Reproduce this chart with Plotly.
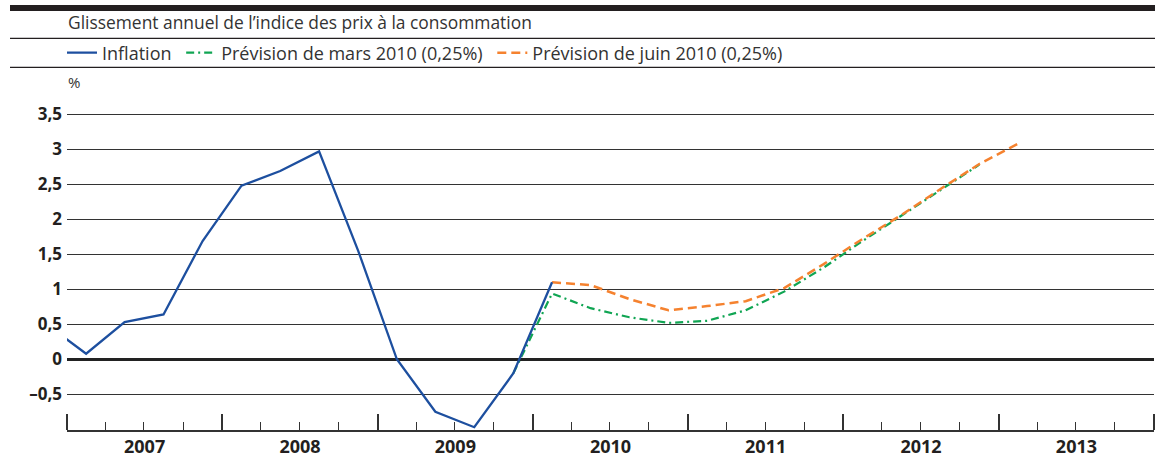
import datetime as dt
import plotly.graph_objects as go

# ---- data ----
infl_q = ["2006T4", "2007T1", "2007T2", "2007T3", "2007T4", "2008T1", "2008T2", "2008T3",
          "2008T4", "2009T1", "2009T2", "2009T3", "2009T4", "2010T1"]
infl_v = [0.49, 0.08, 0.53, 0.64, 1.69, 2.48, 2.69, 2.97, 1.55, 0.00, -0.75, -0.97, -0.20, 1.10]

mars_q = ["2009T4", "2010T1", "2010T2", "2010T3", "2010T4", "2011T1", "2011T2", "2011T3",
          "2011T4", "2012T1", "2012T2", "2012T3", "2012T4"]
mars_v = [-0.20, 0.94, 0.73, 0.60, 0.52, 0.55, 0.70, 0.97, 1.31, 1.69, 2.05, 2.42, 2.78]

juin_q = ["2010T1", "2010T2", "2010T3", "2010T4", "2011T1", "2011T2", "2011T3", "2011T4",
          "2012T1", "2012T2", "2012T3", "2012T4", "2013T1"]
juin_v = [1.10, 1.06, 0.86, 0.70, 0.76, 0.83, 1.02, 1.36, 1.72, 2.06, 2.43, 2.79, 3.08]

x_start, x_end = "2007-01-01", "2014-01-01"
y_ticks = [-0.5, 0, 0.5, 1, 1.5, 2, 2.5, 3, 3.5]
y_labels = ["\u20130,5", "0", "0,5", "1", "1,5", "2", "2,5", "3", "3,5"]

title = "Glissement annuel de l\u2019indice des prix à la consommation"
names = ["Inflation", "Prévision de mars 2010 (0,25%)", "Prévision de juin 2010 (0,25%)"]

BLUE = "#1d4f9f"
GREEN = "#10a553"
ORANGE = "#f5822f"
TXT = "#231f20"
FONT = "'Open Sans', 'Noto Sans', sans-serif"
PAD = "\u00a0"  # extra spacing after legend entries


def qdate(q):
    """Middle of a quarter given as 'YYYYTn'."""
    y, n = q.split("T")
    y, n = int(y), int(n)
    start = dt.datetime(y, 3 * n - 2, 1)
    end = dt.datetime(y + 1, 1, 1) if n == 4 else dt.datetime(y, 3 * n + 1, 1)
    return (start + (end - start) / 2).strftime("%Y-%m-%d %H:%M")


# ---- geometry (pixels) ----
W, H = 1155, 457
L, R, T, B = 67, 1, 100, 27
PW = W - L - R
PH = H - T - B


def px(x):
    return (x - L) / PW


def py(y):
    return (H - B - y) / PH


fig = go.Figure()
fig.add_trace(go.Scatter(x=[qdate(q) for q in mars_q], y=mars_v, mode="lines", name=names[1] + PAD,
                         line=dict(color=GREEN, width=2.2, dash="8px,4px,2px,4px"), legendrank=2))
fig.add_trace(go.Scatter(x=[qdate(q) for q in juin_q], y=juin_v, mode="lines", name=names[2],
                         line=dict(color=ORANGE, width=2.5, dash="9px,5px"), legendrank=3))
fig.add_trace(go.Scatter(x=[qdate(q) for q in infl_q], y=infl_v, mode="lines", name=names[0] + PAD,
                         line=dict(color=BLUE, width=2.3), legendrank=1))

fig.update_layout(
    width=W, height=H,
    margin=dict(l=L, r=R, t=T, b=B, pad=0),
    paper_bgcolor="white", plot_bgcolor="white",
    font=dict(family=FONT, color=TXT, size=15),
    showlegend=True,
    legend=dict(orientation="h", x=px(62), y=py(53), xanchor="left", yanchor="middle",
                font=dict(family=FONT, size=18, color="#333333"), bgcolor="rgba(0,0,0,0)",
                itemwidth=30, traceorder="normal"),
    xaxis=dict(type="date", range=[x_start, x_end], tickmode="linear", tick0=x_start, dtick="M12",
               tickformat="%Y", ticklabelmode="period", automargin=False,
               ticks="inside", ticklen=16, tickwidth=1.5, tickcolor="#333333",
               tickfont=dict(family=FONT, size=18, color=TXT, weight="bold"),
               showgrid=False, zeroline=False, showline=True, linecolor="#333333", linewidth=1.5,
               minor=dict(tick0=x_start, dtick="M3", ticks="inside", ticklen=8,
                          tickwidth=1.3, tickcolor="#333333", showgrid=False)),
    yaxis=dict(range=[-1.01, 3.704], tickmode="array", tickvals=y_ticks, ticktext=y_labels,
               automargin=False,
               ticks="", ticklabelstandoff=4, showgrid=True, gridcolor="#333333", gridwidth=1.1,
               zeroline=True, zerolinecolor="#222222", zerolinewidth=2.5, showline=False,
               tickfont=dict(family=FONT, size=17, color=TXT, weight="bold")),
    shapes=[
        dict(type="rect", xref="paper", yref="paper", x0=px(10), x1=px(W), y0=py(11), y1=py(5),
             fillcolor="#231f20", line=dict(width=0)),
        dict(type="line", xref="paper", yref="paper", x0=px(10), x1=px(W), y0=py(38.3), y1=py(38.3),
             line=dict(color="#231f20", width=1.2)),
        dict(type="line", xref="paper", yref="paper", x0=px(10), x1=px(W), y0=py(67.3), y1=py(67.3),
             line=dict(color="#231f20", width=1.2)),
    ],
    annotations=[
        dict(text=title, xref="paper", yref="paper", x=px(66), y=py(22), xanchor="left",
             yanchor="middle", showarrow=False, font=dict(family=FONT, size=17.4, color="#333333")),
        dict(text="%", xref="paper", yref="paper", x=px(66), y=py(82), xanchor="left",
             yanchor="middle", showarrow=False, font=dict(family=FONT, size=15, color="#333333")),
    ],
)

fig.write_html("out.html", include_plotlyjs=True, config=dict(displayModeBar=False),
               post_script="document.body.style.margin='0';")
